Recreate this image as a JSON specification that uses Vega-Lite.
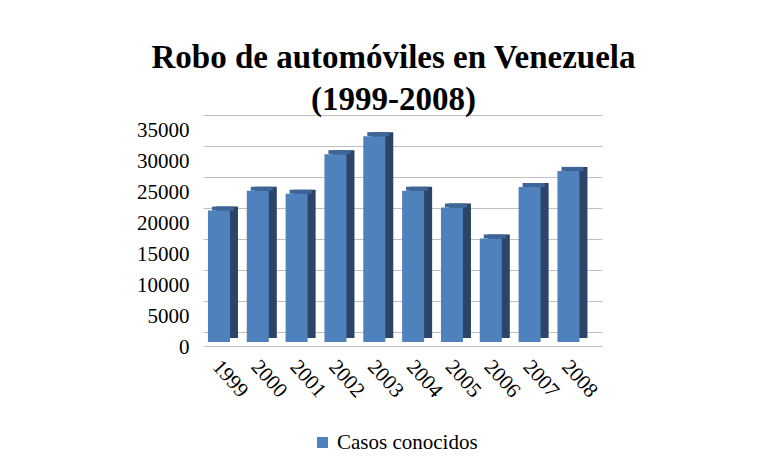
{
  "$schema": "https://vega.github.io/schema/vega-lite/v6.json",
  "width": 399,
  "height": 227,
  "autosize": {"type": "none"},
  "padding": {"left": 203, "top": 115, "right": 174, "bottom": 129},
  "background": "white",
  "config": {
    "view": {"stroke": null},
    "font": "Liberation Serif, Times New Roman, serif",
    "axis": {"labelFont": "Liberation Serif, Times New Roman, serif"},
    "legend": {"labelFont": "Liberation Serif, Times New Roman, serif"}
  },
  "title": {
    "text": ["Robo de automóviles en Venezuela", "(1999-2008)"],
    "font": "Liberation Serif, Times New Roman, serif",
    "fontSize": 33,
    "fontWeight": "bold",
    "lineHeight": 42,
    "color": "#000000",
    "anchor": "middle",
    "dx": -9,
    "offset": -2
  },
  "data": {
    "values": [
      {"year": "1999", "casos": 21200},
      {"year": "2000", "casos": 24400},
      {"year": "2001", "casos": 23900},
      {"year": "2002", "casos": 30300},
      {"year": "2003", "casos": 33200},
      {"year": "2004", "casos": 24400},
      {"year": "2005", "casos": 21700},
      {"year": "2006", "casos": 16700},
      {"year": "2007", "casos": 25000},
      {"year": "2008", "casos": 27600}
    ]
  },
  "encoding": {
    "x": {
      "field": "year",
      "type": "ordinal",
      "scale": {"paddingInner": 0.433, "paddingOuter": 0.354, "align": 0.18},
      "axis": {
        "title": null,
        "labelAngle": 48,
        "labelAlign": "left",
        "labelBaseline": "middle",
        "labelFont": "Liberation Serif, Times New Roman, serif",
        "labelFontSize": 21,
        "labelColor": "#000000",
        "labelPadding": 17,
        "labelOffset": -3,
        "ticks": false,
        "tickSize": 0,
        "offset": 4,
        "domainColor": "#bfbfbf",
        "domainWidth": 1
      }
    }
  },
  "layer": [
    {
      "mark": {"type": "bar", "opacity": 0},
      "encoding": {
        "y": {
          "field": "casos",
          "type": "quantitative",
          "scale": {"domain": [-1613, 35000], "nice": false, "zero": false},
          "axis": {
            "orient": "right",
            "grid": true,
            "labels": false,
            "ticks": false,
            "domain": false,
            "title": null,
            "values": [0, 5000, 10000, 15000, 20000, 25000, 30000, 35000],
            "gridColor": "#c0c0c0",
            "gridWidth": 1.2
          }
        }
      }
    },
    {
      "mark": {"type": "bar", "color": "#2b4468", "xOffset": 8, "yOffset": -4},
      "encoding": {
        "y": {
          "field": "casos",
          "type": "quantitative",
          "scale": {"domain": [0, 36613], "nice": false},
          "axis": {
            "orient": "left",
            "grid": false,
            "domain": false,
            "ticks": false,
            "tickSize": 0,
            "title": null,
            "values": [0, 5000, 10000, 15000, 20000, 25000, 30000, 35000],
            "labelFont": "Liberation Serif, Times New Roman, serif",
            "labelFontSize": 21,
            "labelColor": "#000000",
            "labelPadding": 14,
            "labelOffset": 5,
            "labelFlush": false,
            "labelOverlap": false,
            "format": "d"
          }
        }
      }
    },
    {
      "mark": {"type": "bar", "color": "#3d6598", "xOffset": 4, "yOffset": -4},
      "encoding": {
        "y": {
          "field": "casos",
          "type": "quantitative",
          "scale": {"domain": [0, 36613], "nice": false},
          "axis": null
        },
        "y2": {"field": "casos"}
      }
    },
    {
      "mark": {"type": "bar"},
      "encoding": {
        "y": {
          "field": "casos",
          "type": "quantitative",
          "scale": {"domain": [0, 36613], "nice": false},
          "axis": null
        },
        "color": {
          "datum": "Casos conocidos",
          "scale": {"range": ["#4f81bd"]},
          "legend": {
            "orient": "none",
            "legendX": 109,
            "legendY": 317,
            "title": null,
            "direction": "horizontal",
            "labelFont": "Liberation Serif, Times New Roman, serif",
            "labelFontSize": 21,
            "labelColor": "#000000",
            "symbolType": "square",
            "symbolSize": 121,
            "symbolStrokeWidth": 0
          }
        }
      }
    }
  ],
  "resolve": {"scale": {"y": "independent"}}
}
